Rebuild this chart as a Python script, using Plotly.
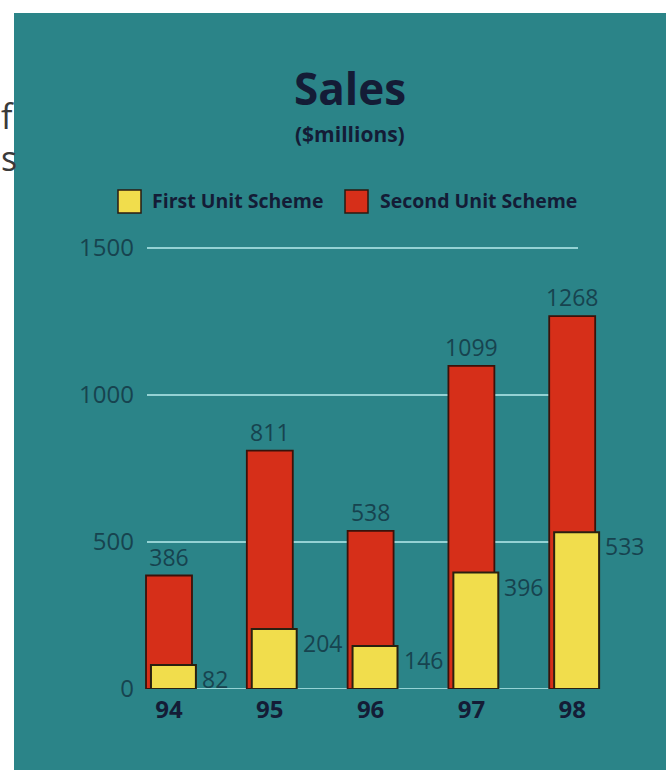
import plotly.graph_objects as go

# ---- data ----
years = ["94", "95", "96", "97", "98"]
first_unit = [82, 204, 146, 396, 533]
second_unit = [386, 811, 538, 1099, 1268]
y_ticks = [0, 500, 1000, 1500]
series_names = ["First Unit Scheme", "Second Unit Scheme"]

# ---- page geometry (pixels) ----
W, H = 666, 770
PL, PR, PT, PB = 140, 620, 230, 689      # plot area box
CAT0, CAT_STEP = 169, 100.8              # pixel of first category, spacing
PX_PER_UNIT = 0.294                      # vertical pixels per $million

x_range = [(PL - CAT0) / CAT_STEP, (PR - CAT0) / CAT_STEP]
y_range = [0, (PB - PT) / PX_PER_UNIT]


def px_x(px):
    return (px - PL) / (PR - PL)


def px_y(py):
    return (PB - py) / (PB - PT)


TEAL = "#2b8488"
RED = "#d62f19"
YELLOW = "#f1dd4c"
GRID = "#94d2d4"
DARK = "#141c36"
NUM = "#17434f"
FONT = "Open Sans"

RED_OFF, RED_W = -0.228, 0.456
YEL_OFF, YEL_W = -0.179, 0.446

fig = go.Figure()

fig.add_trace(go.Bar(
    x=years, y=second_unit, name=series_names[1],
    offset=RED_OFF, width=RED_W,
    marker=dict(color=RED, line=dict(color="#3a120a", width=1.8)),
    text=[str(v) for v in second_unit], textposition="outside",
    constraintext="none", cliponaxis=False,
    textfont=dict(family=FONT, size=23, color=NUM),
    showlegend=False,
))
fig.add_trace(go.Bar(
    x=years, y=first_unit, name=series_names[0],
    offset=YEL_OFF, width=YEL_W,
    marker=dict(color=YELLOW, line=dict(color="#2a2010", width=2)),
    showlegend=False,
))

shapes = []
annotations = []

# teal panel
shapes.append(dict(type="rect", xref="paper", yref="paper",
                   x0=px_x(14), x1=px_x(W + 2), y0=px_y(H + 2), y1=px_y(13),
                   fillcolor=TEAL, line=dict(width=0), layer="below"))

# gridlines and baseline
for t in y_ticks:
    shapes.append(dict(type="line", xref="paper", yref="y",
                       x0=px_x(147), x1=px_x(578), y0=t, y1=t,
                       line=dict(color=GRID, width=2), layer="below"))

# value labels beside the yellow bars
for i, v in enumerate(first_unit):
    annotations.append(dict(x=i + YEL_OFF + YEL_W, y=v, xref="x", yref="y",
                            text=str(v), showarrow=False,
                            xanchor="left", yanchor="top", xshift=4, yshift=4,
                            font=dict(family=FONT, size=23, color=NUM)))

# title and unit line
annotations.append(dict(x=px_x(350), y=px_y(119), xref="paper", yref="paper",
                        text="<b>Sales</b>", showarrow=False,
                        xanchor="center", yanchor="bottom", borderpad=0,
                        font=dict(family=FONT, size=44, color=DARK)))
annotations.append(dict(x=px_x(350), y=px_y(119), xref="paper", yref="paper",
                        text="<b>($millions)</b>", showarrow=False,
                        xanchor="center", yanchor="top", borderpad=0,
                        font=dict(family=FONT, size=21, color=DARK)))

# legend
legend_items = [(series_names[0], YELLOW, 118, 150), (series_names[1], RED, 345, 378)]
for name, col, sx, tx in legend_items:
    shapes.append(dict(type="rect", xref="paper", yref="paper",
                       x0=px_x(sx), x1=px_x(sx + 23), y0=px_y(213), y1=px_y(190),
                       fillcolor=col, line=dict(color="#2a1a10", width=1.5)))
    annotations.append(dict(x=px_x(tx), y=px_y(201), xref="paper", yref="paper",
                            text="<b>" + name + "</b>", showarrow=False,
                            xanchor="left", yanchor="middle",
                            font=dict(family=FONT, size=19.5, color=DARK)))

# neighbouring page text at the left edge
for txt, yc in [("f", 116), ("s", 158)]:
    annotations.append(dict(x=px_x(0), y=px_y(yc), xref="paper", yref="paper",
                            text=txt, showarrow=False,
                            xanchor="left", yanchor="middle", borderpad=0,
                            font=dict(family=FONT, size=34, color="#3a3a3a")))

fig.update_layout(
    width=W, height=H,
    margin=dict(l=PL, r=W - PR, t=PT, b=H - PB, pad=0),
    paper_bgcolor="white",
    plot_bgcolor="rgba(0,0,0,0)",
    barmode="overlay",
    shapes=shapes,
    annotations=annotations,
    showlegend=False,
    xaxis=dict(range=x_range, showgrid=False, zeroline=False, showline=False,
               ticks="", ticklabelstandoff=4,
               tickfont=dict(family=FONT, size=24, color=DARK, weight="bold"),
               fixedrange=True),
    yaxis=dict(range=y_range, tickvals=y_ticks, showgrid=False, zeroline=False,
               showline=False, ticks="", ticklabelstandoff=5,
               tickfont=dict(family=FONT, size=24, color=NUM),
               fixedrange=True),
)

fig.write_html("out.html")
